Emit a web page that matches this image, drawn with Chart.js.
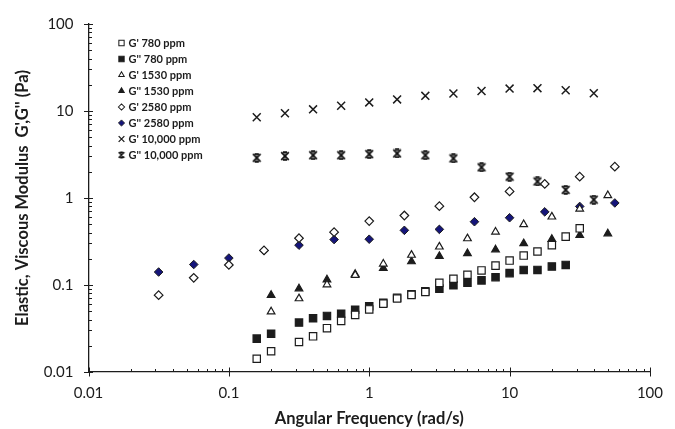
<!DOCTYPE html>
<html>
<head>
<meta charset="utf-8">
<script src="https://cdn.jsdelivr.net/npm/chart.js@4.4.1/dist/chart.umd.min.js"></script>
<style>
  html, body { margin: 0; padding: 0; background: #fff; }
  #wrap { width: 675px; height: 429px; position: relative; }
</style>
</head>
<body>
<div id="wrap"><canvas id="chart" width="675" height="429"></canvas></div>
<script>
// angular frequency (rad/s) per sample set
const x780 = [0.158, 0.2, 0.316, 0.398, 0.5, 0.631, 0.794, 1, 1.26, 1.58, 2, 2.51, 3.16, 3.98, 5.01, 6.31, 7.94, 10, 12.6, 15.8, 20, 25.1, 31.6];
const x1530 = [0.2, 0.316, 0.5, 0.794, 1.26, 2, 3.16, 5.01, 7.94, 12.6, 20, 31.6, 50.1];
const x2580 = [0.0316, 0.0562, 0.1, 0.178, 0.316, 0.562, 1, 1.78, 3.16, 5.62, 10, 17.8, 31.6, 56.2];
const x10000 = [0.158, 0.251, 0.398, 0.631, 1, 1.58, 2.51, 3.98, 6.31, 10, 15.8, 25.1, 39.8];

// moduli (Pa)
const gp780 = [0.0142, 0.0173, 0.0221, 0.0257, 0.0319, 0.0387, 0.0453, 0.0524, 0.061, 0.070, 0.077, 0.083, 0.106, 0.118, 0.131, 0.147, 0.167, 0.191, 0.218, 0.243, 0.287, 0.360, 0.448];
const gpp780 = [0.0242, 0.0275, 0.037, 0.0414, 0.0441, 0.0468, 0.052, 0.057, 0.0624, 0.0712, 0.0784, 0.0848, 0.0908, 0.0992, 0.106, 0.113, 0.123, 0.137, 0.149, 0.149, 0.163, 0.170];
const gp1530 = [0.0493, 0.0699, 0.101, 0.13, 0.175, 0.221, 0.275, 0.342, 0.408, 0.497, 0.608, 0.75, 1.07];
const gpp1530 = [0.0764, 0.0908, 0.115, 0.133, 0.156, 0.186, 0.214, 0.231, 0.255, 0.300, 0.336, 0.373, 0.39];
const gp2580 = [0.0764, 0.121, 0.170, 0.25, 0.345, 0.405, 0.543, 0.629, 0.805, 1.02, 1.19, 1.45, 1.76, 2.29];
const gpp2580 = [0.141, 0.172, 0.204, 0.248, 0.287, 0.333, 0.336, 0.425, 0.436, 0.534, 0.593, 0.693, 0.80, 0.877];
const gp10000 = [8.48, 9.42, 10.45, 11.5, 12.56, 13.58, 14.93, 15.9, 17.0, 18.1, 18.3, 17.3, 16.0];
const gpp10000 = [2.90, 3.03, 3.10, 3.10, 3.19, 3.25, 3.10, 2.85, 2.25, 1.76, 1.55, 1.24, 0.957];

const seriesNames = ["G' 780 ppm", "G'' 780 ppm", "G' 1530 ppm", "G'' 1530 ppm", "G' 2580 ppm", "G'' 2580 ppm", "G' 10,000 ppm", "G'' 10,000 ppm"];
const tickValues = [0.01, 0.1, 1, 10, 100];
const tickLabels = ['0.01', '0.1', '1', '10', '100'];
const xTitle = 'Angular Frequency (rad/s)';
const yTitle = "Elastic, Viscous Modulus  G',G'' (Pa)";

const INK = '#1c1c1c';
const NAVY = '#15157a';

// excel-style star marker (x with vertical bar and caps)
function makeStar(size, lw) {
  const c = document.createElement('canvas');
  c.width = size; c.height = size;
  const g = c.getContext('2d');
  const m = size / 2, r = size / 2 - 1.2;
  g.strokeStyle = '#111';
  g.lineWidth = lw;
  g.beginPath();
  g.moveTo(m - r, m - r); g.lineTo(m + r, m + r);
  g.moveTo(m + r, m - r); g.lineTo(m - r, m + r);
  g.moveTo(m - r * 0.55, m - r); g.lineTo(m + r * 0.55, m - r);
  g.moveTo(m - r * 0.55, m + r); g.lineTo(m + r * 0.55, m + r);
  g.stroke();
  g.lineWidth = 1;
  g.beginPath();
  g.moveTo(m, m - r); g.lineTo(m, m + r);
  g.stroke();
  return c;
}
const starBig = makeStar(10, 1.7);
const starSmall = makeStar(8, 1.4);

function pts(xs, ys) {
  return ys.map((y, i) => ({ x: xs[i], y: y }));
}

const styles = [
  { pointStyle: 'rect', radius: 5.2, bg: '#fff', border: INK, bw: 1.2 },
  { pointStyle: 'rect', radius: 5.2, bg: INK, border: INK, bw: 1.2 },
  { pointStyle: 'triangle', radius: 4.4, bg: '#fff', border: INK, bw: 1.2 },
  { pointStyle: 'triangle', radius: 4.4, bg: INK, border: INK, bw: 1.2 },
  { pointStyle: 'rectRot', radius: 4.3, bg: '#fff', border: INK, bw: 1.2 },
  { pointStyle: 'rectRot', radius: 4.3, bg: NAVY, border: INK, bw: 1.0 },
  { pointStyle: 'crossRot', radius: 5.6, bg: INK, border: INK, bw: 1.5 },
  { pointStyle: starBig, radius: 5, bg: INK, border: INK, bw: 1.5 },
];

const dataSets = [
  pts(x780, gp780), pts(x780, gpp780),
  pts(x1530, gp1530), pts(x1530, gpp1530),
  pts(x2580, gp2580), pts(x2580, gpp2580),
  pts(x10000, gp10000), pts(x10000, gpp10000),
];

const datasets = dataSets.map((d, i) => ({
  label: seriesNames[i],
  data: d,
  showLine: false,
  pointStyle: styles[i].pointStyle,
  pointRadius: styles[i].radius,
  pointHoverRadius: styles[i].radius,
  backgroundColor: styles[i].bg,
  borderColor: styles[i].border,
  pointBorderWidth: styles[i].bw,
}));

// log tick marks: majors cross the axis, minors point inward
const tickMarks = {
  id: 'tickMarks',
  afterDraw(chart) {
    const ctx = chart.ctx;
    const xs = chart.scales.x, ys = chart.scales.y;
    const a = chart.chartArea;
    ctx.save();
    ctx.strokeStyle = INK;
    ctx.lineWidth = 1;
    ctx.beginPath();
    for (let e = -2; e <= 2; e++) {
      for (let k = 1; k <= 9; k++) {
        const v = k * Math.pow(10, e);
        if (v > 100.0001) break;
        const major = k === 1;
        const px = Math.round(xs.getPixelForValue(v)) + 0.5;
        ctx.moveTo(px, a.bottom - (major ? 4.5 : 3));
        ctx.lineTo(px, a.bottom + (major ? 4.5 : 0));
        const py = Math.round(ys.getPixelForValue(v)) + 0.5;
        ctx.moveTo(a.left - (major ? 4.5 : 0), py);
        ctx.lineTo(a.left + (major ? 4.5 : 3.5), py);
      }
    }
    ctx.stroke();
    ctx.restore();
  },
};

// legend inside the plot, top left
const innerLegend = {
  id: 'innerLegend',
  afterDatasetsDraw(chart) {
    const ctx = chart.ctx;
    ctx.save();
    ctx.font = 'bold 11px Lato';
    ctx.textBaseline = 'middle';
    ctx.textAlign = 'left';
    chart.data.datasets.forEach((ds, i) => {
      const y = 43 + i * 16;
      const st = styles[i];
      ctx.fillStyle = st.bg;
      ctx.strokeStyle = st.border;
      ctx.lineWidth = st.bw * 0.85;
      Chart.helpers.drawPoint(ctx, {
        pointStyle: i === 7 ? starSmall : st.pointStyle,
        rotation: 0,
        radius: st.radius * 0.72,
        borderWidth: st.bw * 0.85,
      }, 121.5, y);
      ctx.fillStyle = INK;
      ctx.fillText(ds.label, 128.5, y + 0.5);
    });
    ctx.restore();
  },
};

new Chart(document.getElementById('chart'), {
  type: 'scatter',
  data: { datasets: datasets },
  plugins: [tickMarks, innerLegend],
  options: {
    responsive: false,
    animation: false,
    layout: { padding: { top: 19, right: 18, left: 0, bottom: 0 } },
    plugins: { legend: { display: false }, tooltip: { enabled: false } },
    scales: {
      x: {
        type: 'logarithmic',
        min: 0.01,
        max: 100,
        afterBuildTicks: (s) => { s.ticks = tickValues.map((v) => ({ value: v })); },
        afterFit: (s) => { s.height = 57; },
        ticks: {
          autoSkip: false,
          maxRotation: 0,
          padding: 12,
          color: INK,
          font: { family: 'Lato', size: 15 },
          callback: (v, i) => tickLabels[i],
        },
        grid: { display: true, drawOnChartArea: false, drawTicks: false },
        border: { display: true, color: INK, width: 1.3 },
        title: {
          display: true,
          text: xTitle,
          color: INK,
          font: { family: 'Lato', size: 16.5, weight: 'bold' },
          padding: { top: 0, bottom: 0 },
        },
      },
      y: {
        type: 'logarithmic',
        min: 0.01,
        max: 100,
        afterBuildTicks: (s) => { s.ticks = tickValues.map((v) => ({ value: v })); },
        afterFit: (s) => { s.width = 88.5; },
        ticks: {
          autoSkip: false,
          padding: 15,
          color: INK,
          font: { family: 'Lato', size: 15 },
          callback: (v, i) => tickLabels[i],
        },
        grid: { display: true, drawOnChartArea: false, drawTicks: false },
        border: { display: true, color: INK, width: 1.3 },
        title: {
          display: true,
          text: yTitle,
          color: INK,
          font: { family: 'Lato', size: 16.5, weight: 'bold' },
          padding: { top: 13, bottom: 0 },
        },
      },
    },
  },
});
</script>
</body>
</html>
